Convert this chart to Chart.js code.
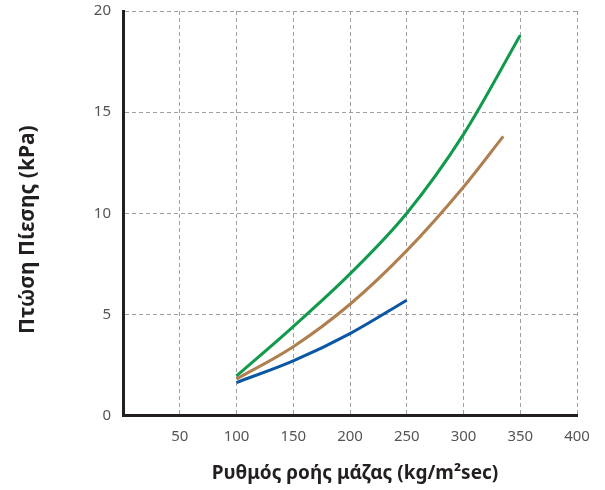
<!DOCTYPE html>
<html>
<head>
<meta charset="utf-8">
<script src="https://cdn.jsdelivr.net/npm/chart.js@4"></script>
<style>
  html, body { margin: 0; padding: 0; background: #fff; }
  #wrap { width: 605px; height: 490px; }
</style>
</head>
<body>
<div id="wrap"><canvas id="pressureChart" width="605" height="490"></canvas></div>
<script>
// --- Data ---
const greenX = [100, 150, 200, 250, 300, 350];
const greenY = [1.96, 4.4, 7.0, 10.0, 13.9, 18.8];
const brownX = [100, 150, 200, 250, 300, 335];
const brownY = [1.8, 3.4, 5.5, 8.15, 11.3, 13.8];
const blueX = [100, 150, 200, 250];
const blueY = [1.63, 2.7, 4.05, 5.7];

// non-breaking spaces nudge the titles a little off-centre, as in the original
const xTitle = '\u00a0\u00a0Ρυθμός ροής μάζας (kg/m²sec)';
const yTitle = 'Πτώση Πίεσης (kPa)\u00a0\u00a0\u00a0\u00a0\u00a0\u00a0';

const toPoints = (xs, ys) => xs.map((x, i) => ({ x, y: ys[i] }));

const FONT = "'Noto Sans', 'DejaVu Sans', sans-serif";
const GRID = '#a0a0a0';

// grid lines: dashed, hidden at 0 where the solid axis border sits
const gridStyle = {
  lineWidth: 1,
  drawTicks: false,
  color: (ctx) => ctx.tick && ctx.tick.value === 0 ? 'rgba(0,0,0,0)' : GRID
};
const borderStyle = { display: true, color: '#231f20', width: 3, dash: [4, 3] };

const makeLine = (data, color) => ({
  data,
  borderColor: color,
  backgroundColor: color,
  borderWidth: 3,
  pointRadius: 0,
  fill: false,
  tension: 0.4,
  cubicInterpolationMode: 'monotone'
});

new Chart(document.getElementById('pressureChart'), {
  type: 'line',
  data: {
    datasets: [
      makeLine(toPoints(greenX, greenY), '#119a4c'),
      makeLine(toPoints(brownX, brownY), '#b07f4f'),
      makeLine(toPoints(blueX, blueY), '#0b57a4')
    ]
  },
  options: {
    responsive: false,
    animation: false,
    layout: { padding: { left: 0, right: 28, top: 11, bottom: 0 } },
    plugins: { legend: { display: false }, tooltip: { enabled: false } },
    scales: {
      x: {
        type: 'linear',
        min: 0,
        max: 400,
        afterFit: (scale) => {
          scale.height = 74.5;
          scale.paddingLeft = 0;
          scale.paddingRight = 0;
        },
        grid: gridStyle,
        border: borderStyle,
        ticks: {
          stepSize: 50,
          padding: 12,
          color: '#555',
          font: { family: FONT, size: 15 },
          callback: (v) => v === 0 ? '' : v
        },
        title: {
          display: true,
          text: xTitle,
          color: '#231f20',
          font: { family: FONT, size: 19, weight: 'bold' },
          padding: { top: 0, bottom: 5 }
        }
      },
      y: {
        min: 0,
        max: 20,
        afterFit: (scale) => {
          scale.width = 123;
          scale.paddingTop = 0;
          scale.paddingBottom = 0;
        },
        grid: gridStyle,
        border: borderStyle,
        ticks: {
          stepSize: 5,
          padding: 12,
          color: '#555',
          font: { family: FONT, size: 15 }
        },
        title: {
          display: true,
          text: yTitle,
          color: '#231f20',
          font: { family: FONT, size: 21, weight: 'bold' },
          padding: { top: 15, bottom: 0 }
        }
      }
    }
  }
});
</script>
</body>
</html>
